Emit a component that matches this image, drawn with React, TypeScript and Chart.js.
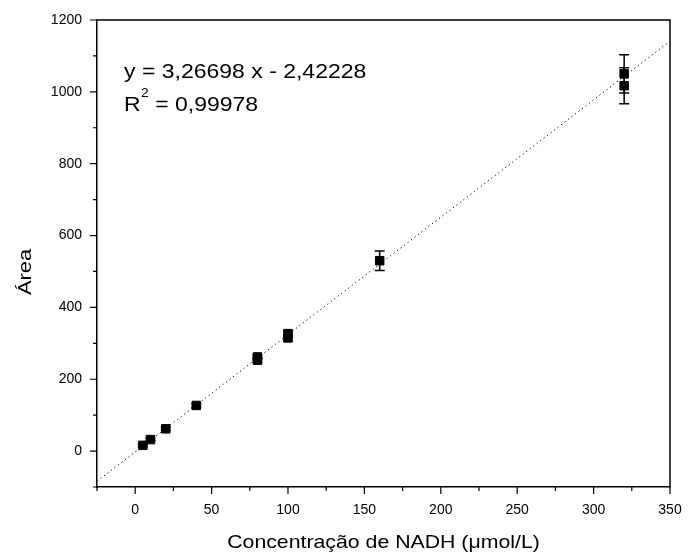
import React, { useEffect, useRef } from "react";
import { Chart, registerables } from "chart.js";

Chart.register(...registerables);

// Data
const concentration = [5, 10, 20, 40, 80, 80, 100, 100, 160, 320, 320];
const area = [16, 32, 62, 127, 262, 253, 327, 315, 530, 1050, 1017];
const areaError = [3, 4, 4, 5, 6, 6, 8, 8, 27, 53, 50];

const fitSlope = 3.26698;
const fitIntercept = -2.42228;
const fitRange = [-25, 350];

const xTitle = "Concentração de NADH (μmol/L)";
const yTitle = "Área";
const equationLine = "y = 3,26698 x - 2,42228";
const r2Value = "0,99978";

const FONT = "Arial, 'Liberation Sans', sans-serif";
const STRETCH = 1.15;

function stretchedText(ctx: any, text: string, x: number, y: number, rot = 0) {
  ctx.save();
  ctx.translate(x, y);
  if (rot) ctx.rotate(rot);
  ctx.scale(STRETCH, 1);
  ctx.fillText(text, 0, 0);
  ctx.restore();
  return ctx.measureText(text).width * STRETCH;
}

const decorPlugin = {
  id: "decor",
  beforeDatasetsDraw(chart: any) {
    const { ctx, scales } = chart;
    const xs = scales.x;
    const ys = scales.y;
    ctx.save();
    ctx.strokeStyle = "#000";
    ctx.lineWidth = 1.5;
    for (let i = 0; i < concentration.length; i++) {
      const px = xs.getPixelForValue(concentration[i]);
      const top = ys.getPixelForValue(area[i] + areaError[i]);
      const bot = ys.getPixelForValue(area[i] - areaError[i]);
      ctx.beginPath();
      ctx.moveTo(px, top);
      ctx.lineTo(px, bot);
      ctx.moveTo(px - 5, top);
      ctx.lineTo(px + 5, top);
      ctx.moveTo(px - 5, bot);
      ctx.lineTo(px + 5, bot);
      ctx.stroke();
    }
    ctx.restore();
  },
  afterDraw(chart: any) {
    const { ctx, chartArea, scales } = chart;
    const { left, right, top, bottom } = chartArea;
    ctx.save();
    ctx.strokeStyle = "#000";
    ctx.lineWidth = 1.5;
    // top and right frame
    ctx.beginPath();
    ctx.moveTo(left, top);
    ctx.lineTo(right, top);
    ctx.lineTo(right, bottom);
    ctx.stroke();
    // ticks
    ctx.lineWidth = 1.2;
    ctx.beginPath();
    scales.y.ticks.forEach((t: any) => {
      const p = scales.y.getPixelForValue(t.value);
      const len = t.value % 200 === 0 ? 7 : 4;
      ctx.moveTo(left, p);
      ctx.lineTo(left - len, p);
    });
    scales.x.ticks.forEach((t: any) => {
      const p = scales.x.getPixelForValue(t.value);
      const len = t.value % 50 === 0 ? 7 : 4;
      ctx.moveTo(p, bottom);
      ctx.lineTo(p, bottom + len);
    });
    ctx.stroke();

    ctx.fillStyle = "#000";
    // x title
    ctx.font = `18.5px ${FONT}`;
    ctx.textAlign = "center";
    ctx.textBaseline = "alphabetic";
    stretchedText(ctx, xTitle, (left + right) / 2, 548);
    // y title
    ctx.font = `19px ${FONT}`;
    stretchedText(ctx, yTitle, 31, 272, -Math.PI / 2);

    // equation
    ctx.textAlign = "left";
    ctx.font = `20px ${FONT}`;
    stretchedText(ctx, equationLine, 124, 78);
    let x = 124;
    x += stretchedText(ctx, "R", x, 111);
    ctx.font = `12px ${FONT}`;
    x += stretchedText(ctx, "2", x + 0.5, 97) + 0.5;
    ctx.font = `20px ${FONT}`;
    stretchedText(ctx, " = " + r2Value, x, 111);
    ctx.restore();
  },
};

const zeroPad = (s: any) => {
  s.paddingLeft = 0;
  s.paddingRight = 0;
  s.paddingTop = 0;
  s.paddingBottom = 0;
};

export default function App() {
  const ref = useRef<HTMLCanvasElement>(null);
  useEffect(() => {
    const fitData = fitRange.map((v) => ({ x: v, y: fitSlope * v + fitIntercept }));
    const pts = concentration.map((c, i) => ({ x: c, y: area[i] }));
    const chart = new Chart(ref.current!, {
      type: "scatter",
      data: {
        datasets: [
          {
            type: "line",
            data: fitData,
            borderColor: "#000",
            borderWidth: 1,
            borderDash: [1.2, 3.2],
            pointRadius: 0,
            fill: false,
          } as any,
          {
            data: pts,
            pointStyle: "rect",
            pointRadius: 6,
            backgroundColor: "#000",
            borderColor: "#000",
            borderWidth: 1,
          },
        ],
      },
      options: {
        responsive: false,
        animation: false,
        layout: { padding: { left: 0, right: 18, top: 20, bottom: 0 } },
        plugins: { legend: { display: false }, tooltip: { enabled: false } },
        scales: {
          x: {
            type: "linear",
            min: -25,
            max: 350,
            grid: { display: false, drawTicks: false },
            border: { display: true, color: "#000", width: 1.5 },
            ticks: {
              stepSize: 25,
              autoSkip: false,
              maxRotation: 0,
              padding: 15,
              color: "#000",
              font: { size: 14, family: FONT },
              callback: (v: any) => (Number(v) % 50 === 0 ? String(v) : ""),
            },
            afterFit: (s: any) => {
              s.height = 67;
              zeroPad(s);
            },
          },
          y: {
            type: "linear",
            min: -100,
            max: 1200,
            grid: { display: false, drawTicks: false },
            border: { display: true, color: "#000", width: 1.5 },
            ticks: {
              stepSize: 100,
              autoSkip: false,
              padding: 15,
              color: "#000",
              font: { size: 14, family: FONT },
              callback: (v: any) => (Number(v) % 200 === 0 ? String(v) : ""),
            },
            afterFit: (s: any) => {
              s.width = 97;
              zeroPad(s);
            },
          },
        },
      },
      plugins: [decorPlugin],
    });
    return () => chart.destroy();
  }, []);
  return (
    <div style={{ position: "fixed", left: 0, top: 0, width: 688, height: 554, background: "#fff" }}>
      <canvas ref={ref} width={688} height={554} style={{ display: "block" }} />
    </div>
  );
}
